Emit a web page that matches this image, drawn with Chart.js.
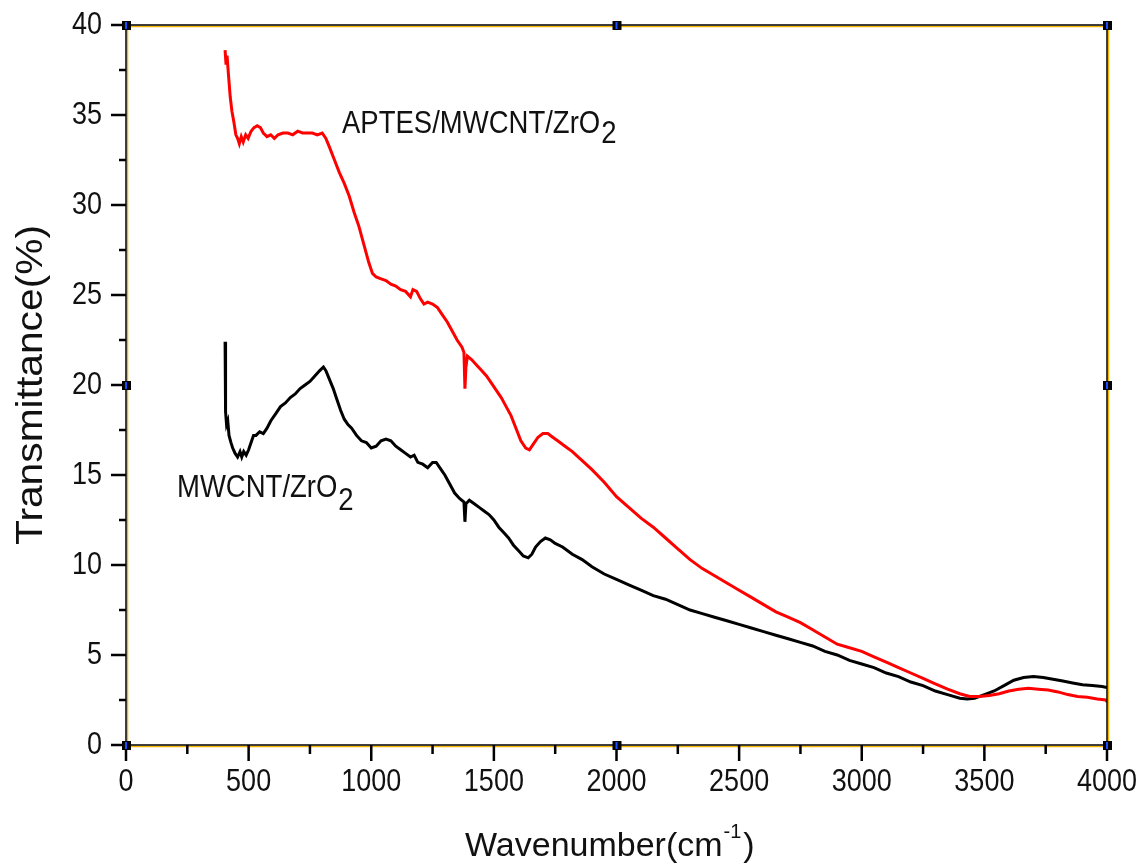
<!DOCTYPE html>
<html>
<head>
<meta charset="utf-8">
<script src="https://cdn.jsdelivr.net/npm/chart.js@4.4.0/dist/chart.umd.min.js"></script>
<style>
  html, body { margin: 0; padding: 0; background: #fff; }
  #wrap { width: 1145px; height: 863px; }
</style>
</head>
<body>
<div id="wrap"><canvas id="ftir"></canvas></div>
<script>
// APTES/MWCNT/ZrO2 (red)
const redWave = [404, 408, 412, 418, 425, 432, 440, 448, 455, 462, 470, 478, 488, 498, 510, 522, 535, 548, 560, 575, 590, 605, 620, 640, 660, 680, 700, 720, 740, 760, 780, 800, 815, 830, 850, 870, 890, 910, 930, 950, 970, 990, 1005, 1020, 1040, 1060, 1080, 1100, 1120, 1140, 1160, 1170, 1185, 1200, 1215, 1230, 1250, 1270, 1290, 1310, 1330, 1350, 1370, 1378, 1382, 1386, 1392, 1410, 1430, 1450, 1470, 1490, 1510, 1530, 1550, 1570, 1590, 1610, 1630, 1645, 1660, 1680, 1700, 1720, 1740, 1760, 1790, 1820, 1860, 1900, 1950, 2000, 2050, 2100, 2150, 2200, 2250, 2300, 2350, 2400, 2450, 2500, 2550, 2600, 2650, 2700, 2750, 2800, 2850, 2900, 2950, 3000, 3050, 3100, 3150, 3200, 3250, 3300, 3350, 3400, 3440, 3480, 3520, 3560, 3600, 3640, 3680, 3720, 3760, 3800, 3840, 3880, 3920, 3960, 3995, 4000];
const redT = [38.6, 37.8, 38.3, 37.2, 36.0, 35.2, 34.6, 33.9, 33.7, 33.4, 33.8, 33.5, 33.9, 33.7, 34.1, 34.3, 34.4, 34.3, 34.0, 33.8, 33.9, 33.7, 33.9, 34.0, 34.0, 33.9, 34.1, 34.0, 34.0, 34.0, 33.9, 34.0, 33.7, 33.2, 32.5, 31.8, 31.2, 30.5, 29.6, 28.8, 27.8, 26.8, 26.2, 26.0, 25.9, 25.8, 25.6, 25.5, 25.3, 25.2, 24.9, 25.3, 25.2, 24.8, 24.5, 24.6, 24.5, 24.3, 23.9, 23.5, 23.0, 22.5, 22.1, 21.8, 19.8, 21.0, 21.6, 21.4, 21.1, 20.8, 20.5, 20.1, 19.7, 19.3, 18.8, 18.3, 17.6, 16.9, 16.5, 16.4, 16.7, 17.1, 17.3, 17.3, 17.1, 16.9, 16.6, 16.3, 15.8, 15.3, 14.6, 13.8, 13.2, 12.6, 12.1, 11.5, 10.9, 10.3, 9.8, 9.4, 9.0, 8.6, 8.2, 7.8, 7.4, 7.1, 6.8, 6.4, 6.0, 5.6, 5.4, 5.2, 4.9, 4.6, 4.3, 4.0, 3.7, 3.4, 3.1, 2.85, 2.7, 2.7, 2.75, 2.85, 3.0, 3.1, 3.15, 3.1, 3.05, 2.95, 2.8, 2.7, 2.65, 2.55, 2.5, 2.4];

// MWCNT/ZrO2 (black)
const blackWave = [404, 405, 407, 410, 415, 420, 428, 435, 445, 455, 465, 472, 480, 490, 500, 510, 520, 530, 545, 560, 575, 590, 610, 630, 650, 670, 690, 710, 730, 750, 770, 790, 805, 815, 830, 845, 860, 875, 890, 905, 920, 940, 960, 980, 1000, 1020, 1040, 1060, 1080, 1100, 1120, 1140, 1160, 1175, 1190, 1210, 1230, 1250, 1265, 1280, 1300, 1320, 1340, 1360, 1378, 1382, 1386, 1400, 1420, 1440, 1460, 1480, 1500, 1520, 1540, 1560, 1580, 1600, 1620, 1640, 1655, 1670, 1690, 1710, 1730, 1750, 1780, 1820, 1860, 1900, 1950, 2000, 2050, 2100, 2150, 2200, 2250, 2300, 2350, 2400, 2450, 2500, 2550, 2600, 2650, 2700, 2750, 2800, 2850, 2900, 2950, 3000, 3050, 3100, 3150, 3200, 3250, 3300, 3350, 3400, 3430, 3460, 3500, 3540, 3580, 3620, 3660, 3700, 3740, 3780, 3820, 3860, 3900, 3940, 3980, 4000];
const blackT = [22.4, 19.5, 18.5, 17.8, 18.0, 17.2, 16.8, 16.5, 16.2, 16.0, 16.3, 16.0, 16.3, 16.1, 16.4, 16.8, 17.2, 17.2, 17.4, 17.3, 17.6, 18.0, 18.4, 18.8, 19.0, 19.3, 19.5, 19.8, 20.0, 20.2, 20.5, 20.8, 21.0, 20.8, 20.3, 19.8, 19.2, 18.6, 18.1, 17.8, 17.6, 17.2, 16.9, 16.8, 16.5, 16.6, 16.9, 17.0, 16.9, 16.6, 16.4, 16.2, 16.0, 16.1, 15.7, 15.6, 15.4, 15.7, 15.7, 15.4, 15.0, 14.5, 14.0, 13.7, 13.5, 12.4, 13.4, 13.6, 13.4, 13.2, 13.0, 12.8, 12.5, 12.1, 11.8, 11.5, 11.1, 10.8, 10.5, 10.4, 10.6, 11.0, 11.3, 11.5, 11.4, 11.2, 11.0, 10.6, 10.3, 9.9, 9.5, 9.2, 8.9, 8.6, 8.3, 8.1, 7.8, 7.5, 7.3, 7.1, 6.9, 6.7, 6.5, 6.3, 6.1, 5.9, 5.7, 5.5, 5.2, 5.0, 4.7, 4.5, 4.3, 4.0, 3.8, 3.5, 3.3, 3.0, 2.8, 2.6, 2.55, 2.6, 2.8, 3.0, 3.3, 3.6, 3.75, 3.8, 3.75, 3.65, 3.55, 3.45, 3.35, 3.3, 3.25, 3.2];

const xTicks = [0, 500, 1000, 1500, 2000, 2500, 3000, 3500, 4000];
const yTicks = [0, 5, 10, 15, 20, 25, 30, 35, 40];

const toXY = (xs, ys) => xs.map((x, i) => ({ x: x, y: ys[i] }));
const FONT = "'Liberation Sans', Arial, sans-serif";

// draws the frame, outside ticks, tick labels, handles and the text with sub/superscripts
const decor = {
  id: "decor",
  afterDatasetsDraw(chart) {
    const ctx = chart.ctx;
    const a = chart.chartArea;
    const sx = chart.scales.x, sy = chart.scales.y;
    ctx.save();

    // frame: orange shadow + black line
    ctx.lineWidth = 1.5;
    ctx.strokeStyle = "#f5b400";
    ctx.strokeRect(a.left + 1.5, a.top + 1.5, a.right - a.left, a.bottom - a.top);
    ctx.strokeStyle = "#000";
    ctx.strokeRect(a.left, a.top, a.right - a.left, a.bottom - a.top);

    // ticks
    ctx.lineWidth = 2.5;
    ctx.beginPath();
    for (let v = 0; v <= 4000; v += 250) {
      const px = sx.getPixelForValue(v);
      const len = v % 500 === 0 ? 16 : 9;
      ctx.moveTo(px, a.bottom);
      ctx.lineTo(px, a.bottom + len);
    }
    for (let v = 0; v <= 40; v += 2.5) {
      const py = sy.getPixelForValue(v);
      const len = v % 5 === 0 ? 15 : 7;
      ctx.moveTo(a.left, py);
      ctx.lineTo(a.left - len, py);
    }
    ctx.stroke();

    // tick labels (glyphs a bit taller than wide, like the original)
    ctx.fillStyle = "#111";
    ctx.font = "27px " + FONT;
    ctx.textBaseline = "middle";
    xTicks.forEach(v => {
      ctx.save();
      ctx.translate(sx.getPixelForValue(v), 782);
      ctx.scale(1, 1.15);
      ctx.textAlign = "center";
      ctx.fillText(String(v), 0, 0);
      ctx.restore();
    });
    yTicks.forEach(v => {
      ctx.save();
      ctx.translate(102, sy.getPixelForValue(v));
      ctx.scale(1, 1.15);
      ctx.textAlign = "right";
      ctx.fillText(String(v), 0, 0);
      ctx.restore();
    });

    // selection handles
    const cx = (a.left + a.right) / 2, cy = (a.top + a.bottom) / 2;
    const hs = [[a.left, a.top], [cx, a.top], [a.right, a.top], [a.left, cy], [a.right, cy], [a.left, a.bottom], [cx, a.bottom], [a.right, a.bottom]];
    hs.forEach(([hx, hy]) => {
      ctx.fillStyle = "#000";
      ctx.fillRect(hx - 4, hy - 4, 9, 9);
      ctx.fillStyle = "#1a4dff";
      ctx.fillRect(hx - 1, hy - 3, 2, 7);
    });

    ctx.fillStyle = "#111";
    ctx.textBaseline = "alphabetic";

    // curve labels (stretched tall like the original)
    function label(txt, sub, x, y, size, subDrop) {
      ctx.save();
      ctx.translate(x, y);
      ctx.scale(1, 1.12);
      ctx.font = size + "px " + FONT;
      ctx.textAlign = "left";
      ctx.fillText(txt, 0, 0);
      const w = ctx.measureText(txt).width;
      ctx.fillText(sub, w + 1, subDrop);
      ctx.restore();
    }
    label("APTES/MWCNT/ZrO", "2", 342, 133, 27.5, 9);
    label("MWCNT/ZrO", "2", 177, 497, 27.5, 12);

    // x title with superscript
    ctx.font = "34px " + FONT;
    const t1 = "Wavenumber(cm", t2 = "-1", t3 = ")";
    const w1 = ctx.measureText(t1).width;
    ctx.font = "20px " + FONT;
    const w2 = ctx.measureText(t2).width;
    ctx.font = "34px " + FONT;
    const w3 = ctx.measureText(t3).width;
    const tx = 465;
    const ty = 856;
    ctx.textAlign = "left";
    ctx.fillText(t1, tx, ty);
    ctx.font = "20px " + FONT;
    ctx.fillText(t2, tx + w1 + 1, ty - 18);
    ctx.font = "34px " + FONT;
    ctx.fillText(t3, tx + w1 + w2 + 3, ty);

    // y title, rotated
    ctx.save();
    ctx.translate(42, cy);
    ctx.rotate(-Math.PI / 2);
    ctx.font = "36px " + FONT;
    const yt = "Transmittance(%)";
    const yw = ctx.measureText(yt).width;
    ctx.scale(320 / yw, 1);
    ctx.textAlign = "center";
    ctx.fillText(yt, 0, 0);
    ctx.restore();

    ctx.restore();
  }
};

new Chart(document.getElementById("ftir").getContext("2d"), {
  type: "line",
  data: {
    datasets: [
      {
        label: "APTES/MWCNT/ZrO2",
        data: toXY(redWave, redT),
        borderColor: "#ff0000",
        borderWidth: 3,
        pointRadius: 0,
        tension: 0,
      },
      {
        label: "MWCNT/ZrO2",
        data: toXY(blackWave, blackT),
        borderColor: "#000000",
        borderWidth: 3,
        pointRadius: 0,
        tension: 0,
      },
    ],
  },
  options: {
    responsive: true,
    maintainAspectRatio: false,
    animation: false,
    layout: { padding: { top: 25, right: 38, left: 0, bottom: 0 } },
    plugins: { legend: { display: false }, tooltip: { enabled: false } },
    scales: {
      x: {
        type: "linear",
        min: 0,
        max: 4000,
        afterFit(scale) {
          scale.height = 118;
          scale.paddingLeft = 0;
          scale.paddingRight = 0;
        },
        afterBuildTicks(scale) { scale.ticks = xTicks.map(v => ({ value: v })); },
        grid: { display: false, drawTicks: false },
        border: { display: false },
        ticks: { display: false },
      },
      y: {
        type: "linear",
        min: 0,
        max: 40,
        afterFit(scale) {
          scale.width = 126;
          scale.paddingTop = 0;
          scale.paddingBottom = 0;
        },
        afterBuildTicks(scale) { scale.ticks = yTicks.map(v => ({ value: v })); },
        grid: { display: false, drawTicks: false },
        border: { display: false },
        ticks: { display: false },
      },
    },
  },
  plugins: [decor],
});
</script>
</body>
</html>
